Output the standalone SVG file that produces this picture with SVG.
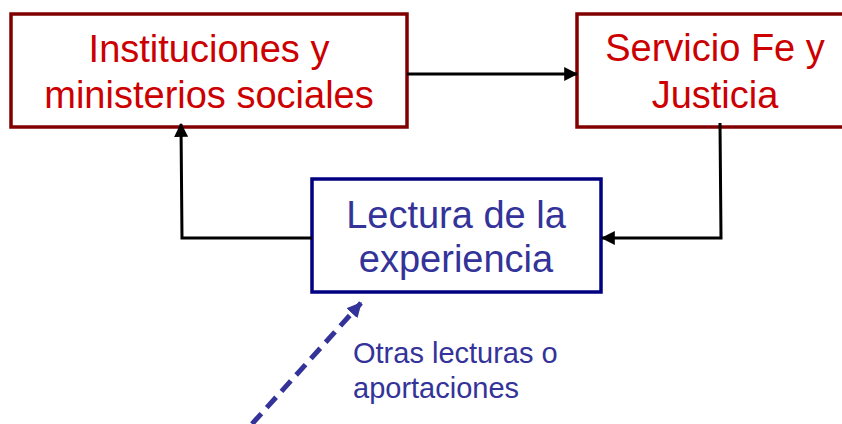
<svg xmlns="http://www.w3.org/2000/svg" width="842" height="424" viewBox="0 0 842 424">
<defs>
<marker id="ah" viewBox="0 0 12 12" refX="11" refY="6" markerWidth="14" markerHeight="14" markerUnits="userSpaceOnUse" orient="auto">
<path d="M0,0 L12,6 L0,12 Z" fill="#000"/>
</marker>
<marker id="ahb" viewBox="0 0 12 12" refX="11" refY="6" markerWidth="15" markerHeight="15" markerUnits="userSpaceOnUse" orient="auto">
<path d="M0,0 L12,6 L0,12 Z" fill="#333399"/>
</marker>
</defs>
<style>
.red rect{fill:#fff;stroke:#800000;stroke-width:3.5}
.blue rect{fill:#fff;stroke:#000080;stroke-width:3.5}
text{font-family:"Liberation Sans",Arial,sans-serif;text-anchor:middle}
.red text{fill:#CC0000;font-size:38px}
.blue text{fill:#333399;font-size:38px}
.note{fill:#333399;font-size:29px;text-anchor:start}
.conn path{fill:none;stroke:#000;stroke-width:3}
</style>
<rect width="842" height="424" fill="#fff"/>
<g id="n1" class="red">
<rect x="11" y="14" width="396" height="113"/>
<text x="209" y="62">Instituciones y</text>
<text x="209" y="108">ministerios sociales</text>
</g>
<g id="n2" class="red">
<rect x="577" y="14" width="290" height="113"/>
<text x="715" y="61">Servicio Fe y</text>
<text x="715" y="108">Justicia</text>
</g>
<g id="n3" class="blue">
<rect x="312" y="179" width="289" height="113"/>
<text x="456" y="228">Lectura de la</text>
<text x="456" y="272">experiencia</text>
</g>
<g id="connectors" class="conn">
<path d="M407,74 L577,74" marker-end="url(#ah)"/>
<path d="M720,123 L721,238 L602,238" marker-end="url(#ah)"/>
<path d="M312,238 L182,238 L181,124" marker-end="url(#ah)"/>
<path d="M252,424 L361,303" style="stroke:#333399;stroke-width:5;stroke-dasharray:14,8" marker-end="url(#ahb)"/>
</g>
<text class="note" x="353" y="363">Otras lecturas o</text>
<text class="note" x="353" y="398">aportaciones</text>
</svg>
